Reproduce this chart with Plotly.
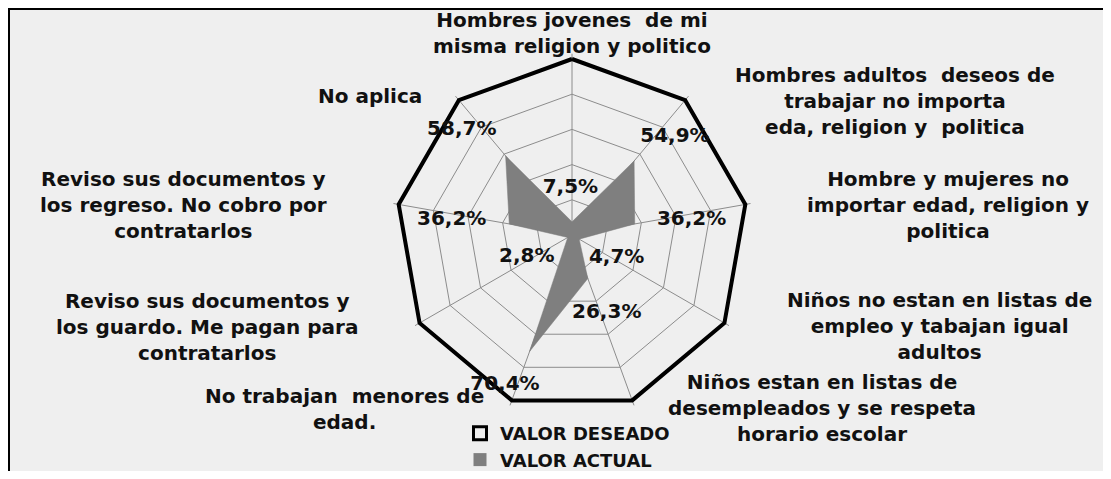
import plotly.graph_objects as go

# ---------------- data ----------------
categories = [
    "Hombres jovenes  de mi<br>misma religion y politico",
    "Hombres adultos  deseos de<br>trabajar no importa<br>eda, religion y  politica",
    "Hombre y mujeres no<br>importar edad, religion y<br>politica",
    "Niños no estan en listas de<br>empleo y tabajan igual<br>adultos",
    "Niños estan en listas de<br>desempleados y se respeta<br>horario escolar",
    "No trabajan  menores de<br>edad.",
    "Reviso sus documentos y<br>los guardo. Me pagan para<br>contratarlos",
    "Reviso sus documentos y<br>los regreso. No cobro por<br>contratarlos",
    "No aplica",
]
valor_deseado = [100, 100, 100, 100, 100, 100, 100, 100, 100]
valor_actual = [7.5, 54.9, 36.2, 4.7, 26.3, 70.4, 2.8, 36.2, 58.7]
series_names = ["VALOR DESEADO", "VALOR ACTUAL"]

# ---------------- layout constants ----------------
OFF = 8                      # default page margin around the plot div
W, H = 1111 - 2 * OFF, 479 - 2 * OFF
RMAX = 103                   # a little room so the thick outer line is not clipped
CX, CY = 572 - OFF, 235 - OFF
R = 176 * RMAX / 100
FONT = "DejaVu Sans"
TXT = "#111111"
n = len(categories)

# where each value label sits (radius in axis units, angle in degrees)
label_r = [26.5, 80.9, 68.5, 28.6, 48.7, 93.3, 28.5, 68.9, 86.5]
label_theta = [358, 46.3, 82.9, 117.5, 156.1, 204.1, 244.4, 277.1, 313.6]

# category label anchor points in page pixels (center of text block)
cat_pos = [(572, 33), (895, 101), (948, 205), (939, 326), (822, 408),
           (344, 409), (207, 327), (183, 205), (370, 96)]


def close(seq):
    return list(seq) + [seq[0]]


fig = go.Figure()

fig.add_trace(go.Scatterpolar(
    r=close(valor_deseado), theta=close(categories), subplot="polar",
    mode="lines", name=series_names[0], showlegend=False,
    line=dict(color="black", width=4),
))
fig.add_trace(go.Scatterpolar(
    r=close(valor_actual), theta=close(categories), subplot="polar",
    mode="lines", name=series_names[1], showlegend=False,
    line=dict(color="#7f7f7f", width=0.5),
    fill="toself", fillcolor="#7f7f7f",
))
# value labels
fig.add_trace(go.Scatterpolar(
    r=label_r, theta=label_theta, mode="text", subplot="polar2",
    cliponaxis=False,
    text=[f"{v:.1f}".replace(".", ",") + "%" for v in valor_actual],
    textfont=dict(family=FONT, size=20, color=TXT, weight="bold"),
    showlegend=False, hoverinfo="skip",
))
# legend entries
fig.add_trace(go.Scatterpolar(
    r=[None], theta=[None], subplot="polar2", mode="markers",
    name=series_names[0],
    marker=dict(symbol="square-open", size=13, color="black",
                line=dict(color="black", width=3)),
))
fig.add_trace(go.Scatterpolar(
    r=[None], theta=[None], subplot="polar2", mode="markers",
    name=series_names[1],
    marker=dict(symbol="square", size=13, color="#7f7f7f"),
))

annotations = []
for txt, (px, py) in zip(categories, cat_pos):
    annotations.append(dict(
        text=txt, x=(px - OFF) / W, y=1 - (py - OFF) / H,
        xref="paper", yref="paper",
        xanchor="center", yanchor="middle", showarrow=False, align="center",
        font=dict(family=FONT, size=20, color=TXT, weight="bold"),
    ))

dom = dict(x=[(CX - R) / W, (CX + R) / W],
           y=[1 - (CY + R) / H, 1 - (CY - R) / H])

fig.update_layout(
    width=W, height=H,
    margin=dict(l=0, r=0, t=0, b=0, autoexpand=False),
    paper_bgcolor="white",
    plot_bgcolor="rgba(0,0,0,0)",
    polar=dict(
        domain=dom,
        bgcolor="rgba(0,0,0,0)",
        gridshape="linear",
        radialaxis=dict(range=[0, RMAX], tickvals=[20, 40, 60, 80, 100],
                        showticklabels=False, ticks="", showline=False,
                        gridcolor="#8c8c8c", gridwidth=1, layer="below traces"),
        angularaxis=dict(type="category", categoryarray=categories,
                         direction="clockwise", rotation=90,
                         showticklabels=False, ticks="",
                         showline=False, gridcolor="#8c8c8c", gridwidth=1,
                         layer="below traces"),
    ),
    polar2=dict(
        domain=dom,
        bgcolor="rgba(0,0,0,0)",
        radialaxis=dict(range=[0, RMAX], visible=False),
        angularaxis=dict(direction="clockwise", rotation=90,
                         thetaunit="degrees", visible=False),
    ),
    showlegend=True,
    legend=dict(x=452 / W, y=1 - (415 - OFF) / H, xanchor="left",
                yanchor="top", itemwidth=30,
                bgcolor="rgba(0,0,0,0)", tracegroupgap=0,
                font=dict(family=FONT, size=18, color=TXT, weight="bold")),
    annotations=annotations,
    shapes=[dict(type="rect", xref="paper", yref="paper",
                 x0=1 / W, x1=1.05, y0=-0.05, y1=1 - 1 / H,
                 fillcolor="#efefef", line=dict(color="black", width=2),
                 layer="below")],
)

fig.write_html("out.html")
